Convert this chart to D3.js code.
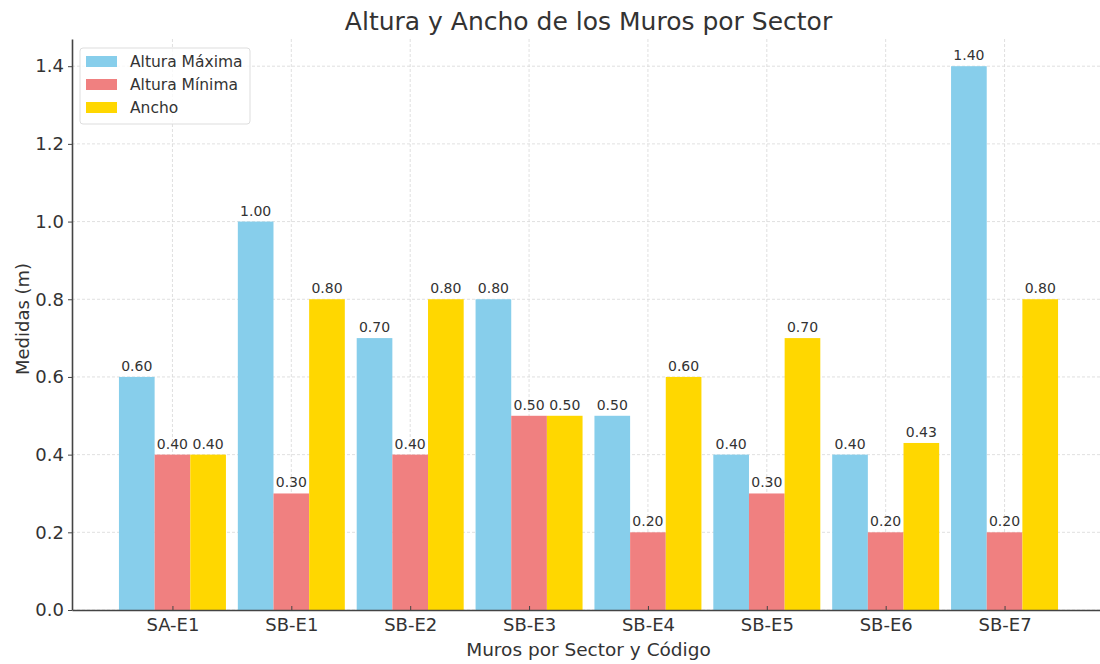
<!DOCTYPE html>
<html>
<head>
<meta charset="utf-8">
<script src="https://cdn.jsdelivr.net/npm/d3@7"></script>
<style>
  body { margin: 0; background: #fff; }
  text { font-family: "DejaVu Sans", sans-serif; }
</style>
</head>
<body>
<div id="chart"></div>
<script>
var categories = ["SA-E1", "SB-E1", "SB-E2", "SB-E3", "SB-E4", "SB-E5", "SB-E6", "SB-E7"]
var alturaMax = [0.60, 1.00, 0.70, 0.80, 0.50, 0.40, 0.40, 1.40]
var alturaMin = [0.40, 0.30, 0.40, 0.50, 0.20, 0.30, 0.20, 0.20]
var ancho = [0.40, 0.80, 0.80, 0.50, 0.60, 0.70, 0.43, 0.80]
var seriesNames = ["Altura Máxima", "Altura Mínima", "Ancho"]
var yTicks = [0.0, 0.2, 0.4, 0.6, 0.8, 1.0, 1.2, 1.4]

var width = 1100, height = 664
// plot edges (don't call it "top", window.top is read-only)
var pLeft = 72, pRight = 1105, pTop = 39, pBottom = 610
var barW = 0.3

var svg = d3.select("#chart").append("svg")
  .attr("width", width).attr("height", height)

var x = d3.scaleLinear().domain([-0.845, 7.845]).range([pLeft, pRight])
var y = d3.scaleLinear().domain([0, 1.47]).range([pBottom, pTop])

var color = d3.scaleOrdinal().domain(seriesNames).range(["#87ceeb", "#f08080", "#ffd700"])

// grid
var grid = svg.append("g")
grid.selectAll("hgrid").data(yTicks).enter().append("line")
  .attr("x1", pLeft).attr("x2", pRight)
  .attr("y1", function(d){ return y(d) }).attr("y2", function(d){ return y(d) })
  .attr("stroke", "#d8d8d8").attr("stroke-dasharray", "3,2").attr("stroke-width", 0.8)
grid.selectAll("vgrid").data(categories).enter().append("line")
  .attr("x1", function(d, i){ return x(i) }).attr("x2", function(d, i){ return x(i) })
  .attr("y1", pTop).attr("y2", pBottom)
  .attr("stroke", "#d8d8d8").attr("stroke-dasharray", "3,2").attr("stroke-width", 0.8)

// bars
var series = [alturaMax, alturaMin, ancho]
series.forEach(function(vals, s) {
  var off = (s - 1) * barW
  var g = svg.append("g")
  g.selectAll("rect").data(vals).enter().append("rect")
    .attr("x", function(d, i){ return x(i + off - barW / 2) })
    .attr("width", x(barW) - x(0))
    .attr("y", function(d){ return y(d) })
    .attr("height", function(d){ return pBottom - y(d) })
    .attr("fill", color(seriesNames[s]))
  g.selectAll("text").data(vals).enter().append("text")
    .attr("x", function(d, i){ return x(i + off) })
    .attr("y", function(d){ return y(d) - 6 })
    .attr("text-anchor", "middle")
    .attr("font-size", 14)
    .attr("fill", "#333")
    .text(function(d){ return d.toFixed(2) })
})

// axes
var xAxis = svg.append("g").attr("transform", "translate(0," + pBottom + ")")
  .call(d3.axisBottom(x).tickValues(d3.range(categories.length))
    .tickFormat(function(i){ return categories[i] }).tickSizeInner(-4).tickSizeOuter(0).tickPadding(8))
xAxis.select(".domain").attr("stroke", "#444").attr("stroke-width", 1.6)
xAxis.selectAll(".tick line").attr("stroke", "#444")
xAxis.selectAll("text").attr("font-size", 18).attr("fill", "#333").attr("font-family", "DejaVu Sans")

var yAxis = svg.append("g").attr("transform", "translate(" + pLeft + ",0)")
  .call(d3.axisLeft(y).tickValues(yTicks).tickFormat(d3.format(".1f")).tickSizeInner(4).tickSizeOuter(0).tickPadding(4))
yAxis.select(".domain").attr("stroke", "#444").attr("stroke-width", 1.6)
yAxis.selectAll(".tick line").attr("stroke", "#444")
yAxis.selectAll("text").attr("font-size", 18).attr("fill", "#333").attr("font-family", "DejaVu Sans")

// title & labels
svg.append("text").attr("x", (pLeft + pRight) / 2).attr("y", 30)
  .attr("text-anchor", "middle").attr("font-size", 25).attr("fill", "#333")
  .text("Altura y Ancho de los Muros por Sector")
svg.append("text").attr("x", (pLeft + pRight) / 2).attr("y", 656)
  .attr("text-anchor", "middle").attr("font-size", 18.5).attr("fill", "#333")
  .text("Muros por Sector y Código")
svg.append("text").attr("transform", "translate(29,319) rotate(-90)")
  .attr("text-anchor", "middle").attr("font-size", 18).attr("fill", "#333")
  .text("Medidas (m)")

// legend
var legend = svg.append("g").attr("transform", "translate(80,48)")
legend.append("rect").attr("width", 170).attr("height", 76).attr("rx", 3)
  .attr("fill", "#fff").attr("fill-opacity", 0.8).attr("stroke", "#ddd")
seriesNames.forEach(function(name, i) {
  legend.append("rect").attr("x", 6).attr("y", 8 + i * 23).attr("width", 31).attr("height", 11)
    .attr("fill", color(name))
  legend.append("text").attr("x", 50).attr("y", 19 + i * 23)
    .attr("font-size", 15.5).attr("fill", "#333").text(name)
})
</script>
</body>
</html>
